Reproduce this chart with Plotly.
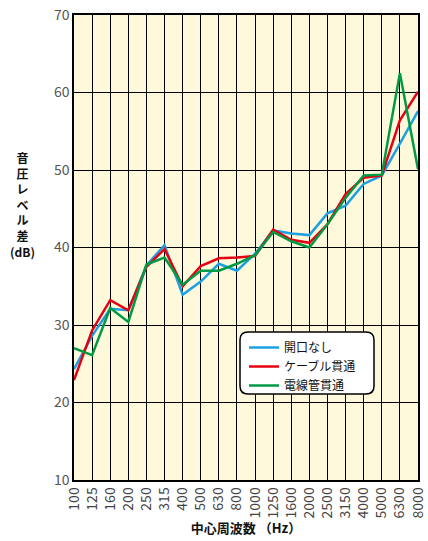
import plotly.graph_objects as go

categories = ["100", "125", "160", "200", "250", "315", "400", "500", "630", "800",
              "1000", "1250", "1600", "2000", "2500", "3150", "4000", "5000", "6300", "8000"]
tick_text = ["100", "125", "160", "200", "250", "315", "400", "500", "630", "800",
             "1000", "1250", "1600", "2000", "2500", "3150", "4000", "5000", "6300", "8000"]

open_none = [24.3, 28.6, 32.1, 31.9, 37.7, 40.3, 33.9, 35.6, 37.9, 37.0,
             39.2, 42.2, 41.8, 41.6, 44.4, 45.4, 48.2, 49.3, 53.4, 57.6]
cable = [22.9, 29.3, 33.2, 31.9, 37.5, 39.8, 35.0, 37.6, 38.6, 38.7,
         38.9, 42.3, 41.0, 40.6, 43.0, 46.9, 49.0, 49.3, 56.4, 60.1]
conduit = [27.0, 26.1, 32.2, 30.4, 37.8, 38.7, 35.2, 37.0, 37.0, 37.9,
           39.0, 42.0, 40.8, 40.0, 43.0, 46.4, 49.3, 49.4, 62.5, 50.1]

series_names = ["開口なし", "ケーブル貫通", "電線管貫通"]
series_colors = ["#1BA1E2", "#E60012", "#009944"]
y_ticks = [10, 20, 30, 40, 50, 60, 70]

FONT = "Noto Sans CJK JP"

fig = go.Figure()
for name, vals, col in zip(series_names, [open_none, cable, conduit], series_colors):
    fig.add_trace(go.Scatter(x=categories, y=vals, mode="lines", name=name,
                             line=dict(color=col, width=2.5)))

# rounded legend box (paper coords; plot area 344 x 465 px)
PW, PH = 344.0, 465.0
bx0, bx1, by_top, by_bot = 240, 374, 332, 394   # pixel coords of box in figure
x0, x1 = (bx0 - 74) / PW, (bx1 - 74) / PW
y0, y1 = (480 - by_bot) / PH, (480 - by_top) / PH
rx, ry = 8 / PW, 8 / PH
path = (f"M {x0+rx},{y0} L {x1-rx},{y0} Q {x1},{y0} {x1},{y0+ry} "
        f"L {x1},{y1-ry} Q {x1},{y1} {x1-rx},{y1} L {x0+rx},{y1} "
        f"Q {x0},{y1} {x0},{y1-ry} L {x0},{y0+ry} Q {x0},{y0} {x0+rx},{y0} Z")

fig.update_layout(
    width=428, height=541,
    margin=dict(l=74, r=10, t=15, b=61, autoexpand=False),
    paper_bgcolor="white",
    plot_bgcolor="#FFF9DC",
    font=dict(family=FONT, size=12, color="#333"),
    showlegend=True,
    legend=dict(x=(244 - 74) / PW, y=(480 - 333) / PH, xanchor="left", yanchor="top",
                bgcolor="rgba(0,0,0,0)", borderwidth=0,
                font=dict(family=FONT, size=12, color="#111"),
                tracegroupgap=0, itemwidth=30),
    xaxis=dict(type="category", categoryorder="array", categoryarray=categories,
               tickmode="array", tickvals=categories, ticktext=tick_text,
               tickangle=-90, range=[0, len(categories) - 1], automargin=False,
               showgrid=True, gridcolor="black", gridwidth=1,
               showline=True, linecolor="black", linewidth=1.5, mirror=True,
               ticks="", tickfont=dict(size=14, color="#444", family=FONT),
               title=dict(text="<b>中心周波数 （Hz）</b>", font=dict(size=13, color="#111", family=FONT),
                          standoff=2),
               zeroline=False),
    yaxis=dict(range=[10, 70], tickmode="array", tickvals=y_ticks, automargin=False,
               showgrid=True, gridcolor="black", gridwidth=1,
               showline=True, linecolor="black", linewidth=1.5, mirror=True,
               ticks="", ticklen=0, tickfont=dict(size=14, color="#555", family=FONT),
               zeroline=False),
    shapes=[dict(type="path", xref="paper", yref="paper", path=path,
                 line=dict(color="black", width=1.5), fillcolor="white", layer="above")],
    annotations=[dict(text="<b>音<br>圧<br>レ<br>ベ<br>ル<br>差<br>(dB)</b>", xref="paper", yref="paper",
                      x=(22 - 74) / PW, y=(480 - 204) / PH, showarrow=False,
                      xanchor="center", yanchor="middle",
                      font=dict(size=12, color="#111", family=FONT))],
)

fig.write_html("out.html", config={"displayModeBar": False},
               post_script="document.body.style.margin='0';document.body.style.overflow='hidden';")
